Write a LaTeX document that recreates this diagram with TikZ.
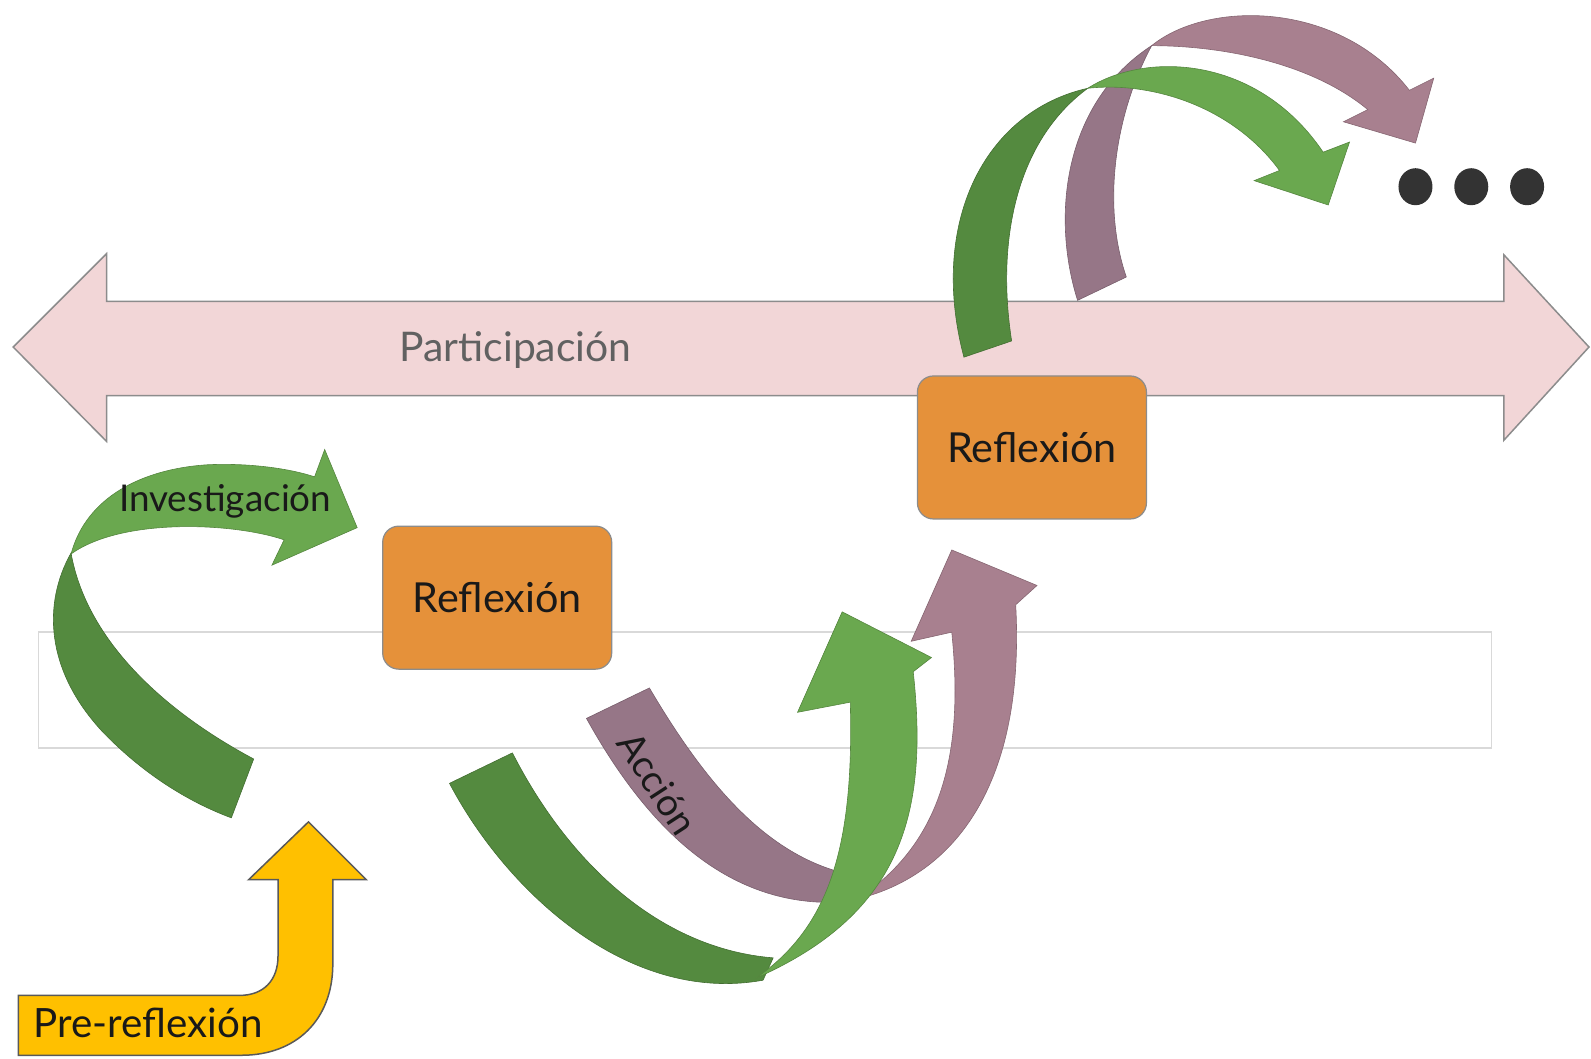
\documentclass[tikz,border=0pt]{standalone}
\usepackage{fontspec}
\setmainfont{Lato}
\usepackage{xcolor}
\usetikzlibrary{positioning,shapes}

\definecolor{rosa}{HTML}{F2D6D7}
\definecolor{naranja}{HTML}{E5913A}
\definecolor{verdeosc}{HTML}{548A3F}
\definecolor{verdecla}{HTML}{6AA84F}
\definecolor{malvaosc}{HTML}{967687}
\definecolor{malvacla}{HTML}{A8808F}
\definecolor{amarillo}{HTML}{FFC000}
\definecolor{puntos}{HTML}{333333}

\begin{document}
\begin{tikzpicture}[x=1.0147bp,y=-1.0147bp,
  caja/.style={
  % The shape:
  rectangle, rounded corners=16bp,
  % The size:
  minimum width=229bp, minimum height=143bp,
  % The border:
  draw=black!45, line width=1.2bp,
  % The filling:
  fill=naranja,
  % Font
  font=\fontsize{41.5}{48}\selectfont, text=black!90
  },
  banda/.style={
  % The border:
  draw=black!45, line width=1.5bp,
  % The filling:
  fill=rosa
  },
  cintaosc/.style={fill=#1osc, draw=#1osc!80!black, line width=0.6bp},
  cintacla/.style={fill=#1cla, draw=#1cla!80!black, line width=0.6bp},
  amar/.style={fill=amarillo, draw=black!65, line width=1.5bp},
  etiqueta/.style={font=\fontsize{#1}{#1}\selectfont, text=black!90, inner sep=0pt}
  ]
  \useasboundingbox (0,0) rectangle (1568,1042.7);

  % faint frame behind everything
  \draw[black!15, line width=1.5bp] (38,623) rectangle (1470,737);

  % Participacion: double block arrow
  \draw[banda] (13,342) -- (105,250) -- (105,297) -- (1482,297) -- (1482,251)
    -- (1566,342) -- (1482,434) -- (1482,390) -- (105,390) -- (105,435) -- cycle;
  \node (part) at (508,345) [etiqueta=41, text=black!62] {Participación};

  % Investigacion arrow
  \filldraw[cintaosc=verde] (250,748) .. controls (160,700) and (85,630) .. (70,545)
    .. controls (42,595) and (45,660) .. (100,720) .. controls (140,762) and (185,790) .. (228,806) -- cycle;
  \filldraw[cintacla=verde] (70,546) .. controls (85,490) and (140,462) .. (205,458)
    .. controls (250,456) and (290,463) .. (310,470) -- (320,443) -- (352,520) -- (268,557)
    -- (280,532) .. controls (230,515) and (120,510) .. (70,546) -- cycle;
  \node (inv) at (222,494) [etiqueta=37] {Investigación};

  % Pre-reflexion arrow
  \filldraw[amar] (18,981) -- (236,981) .. controls (260,981) and (274,966) .. (274,942)
    -- (274,867) -- (245,867) -- (304,810) -- (361,867) -- (328,867) -- (328,950)
    .. controls (328,1005) and (292,1040) .. (238,1040) -- (18,1040) -- cycle;
  \node (pre) at (146,1008) [etiqueta=40.5] {Pre-reflexión};

  % Reflexion boxes
  \node (refl1) at (490,589) [caja] {Reflexión};
  \node (refl2) at (1017,441) [caja] {Reflexión};

  % Accion: mauve ribbon
  \filldraw[cintaosc=malva] (578,708) -- (640,678) .. controls (700,780) and (760,845) .. (838,862)
    -- (830,889) .. controls (720,895) and (640,820) .. (578,708) -- cycle;
  \filldraw[cintacla=malva] (845,886) .. controls (950,860) and (1010,760) .. (1001,596)
    -- (1022,577) -- (938,542) -- (898,632) -- (938,623)
    .. controls (950,740) and (930,830) .. (845,886) -- cycle;
  \node (acc) at (648,772) [etiqueta=38, rotate=-57] {Acción};

  % Accion: green ribbon
  \filldraw[cintaosc=verde] (443,772) -- (505,742) .. controls (560,850) and (650,935) .. (762,944)
    -- (752,966) .. controls (620,990) and (500,880) .. (443,772) -- cycle;
  \filldraw[cintacla=verde] (745,964) .. controls (815,915) and (842,840) .. (838,692)
    -- (786,702) -- (830,603) -- (918,648) -- (900,662)
    .. controls (915,800) and (890,900) .. (745,964) -- cycle;

  % upper ribbons leaving the second reflexion
  \filldraw[cintaosc=malva] (1062,296) .. controls (1035,210) and (1050,100) .. (1135,45)
    .. controls (1100,110) and (1085,200) .. (1110,273) -- cycle;
  \filldraw[cintacla=malva] (1135,45) .. controls (1190,0) and (1320,0) .. (1389,89)
    -- (1413,77) -- (1395,141) -- (1324,120) -- (1348,108)
    .. controls (1290,60) and (1200,45) .. (1135,45) -- cycle;
  \filldraw[cintaosc=verde] (950,352) .. controls (915,220) and (970,110) .. (1072,87)
    .. controls (1000,140) and (982,240) .. (997,336) -- cycle;
  \filldraw[cintacla=verde] (1072,87) .. controls (1130,50) and (1240,55) .. (1304,150)
    -- (1330,140) -- (1309,202) -- (1236,178) -- (1261,168)
    .. controls (1215,105) and (1135,80) .. (1072,87) -- cycle;

  % ellipsis
  \foreach \x in {1395,1450,1505}
    \fill[puntos] (\x,184) ellipse [x radius=17bp, y radius=18.5bp];
\end{tikzpicture}
\end{document}
